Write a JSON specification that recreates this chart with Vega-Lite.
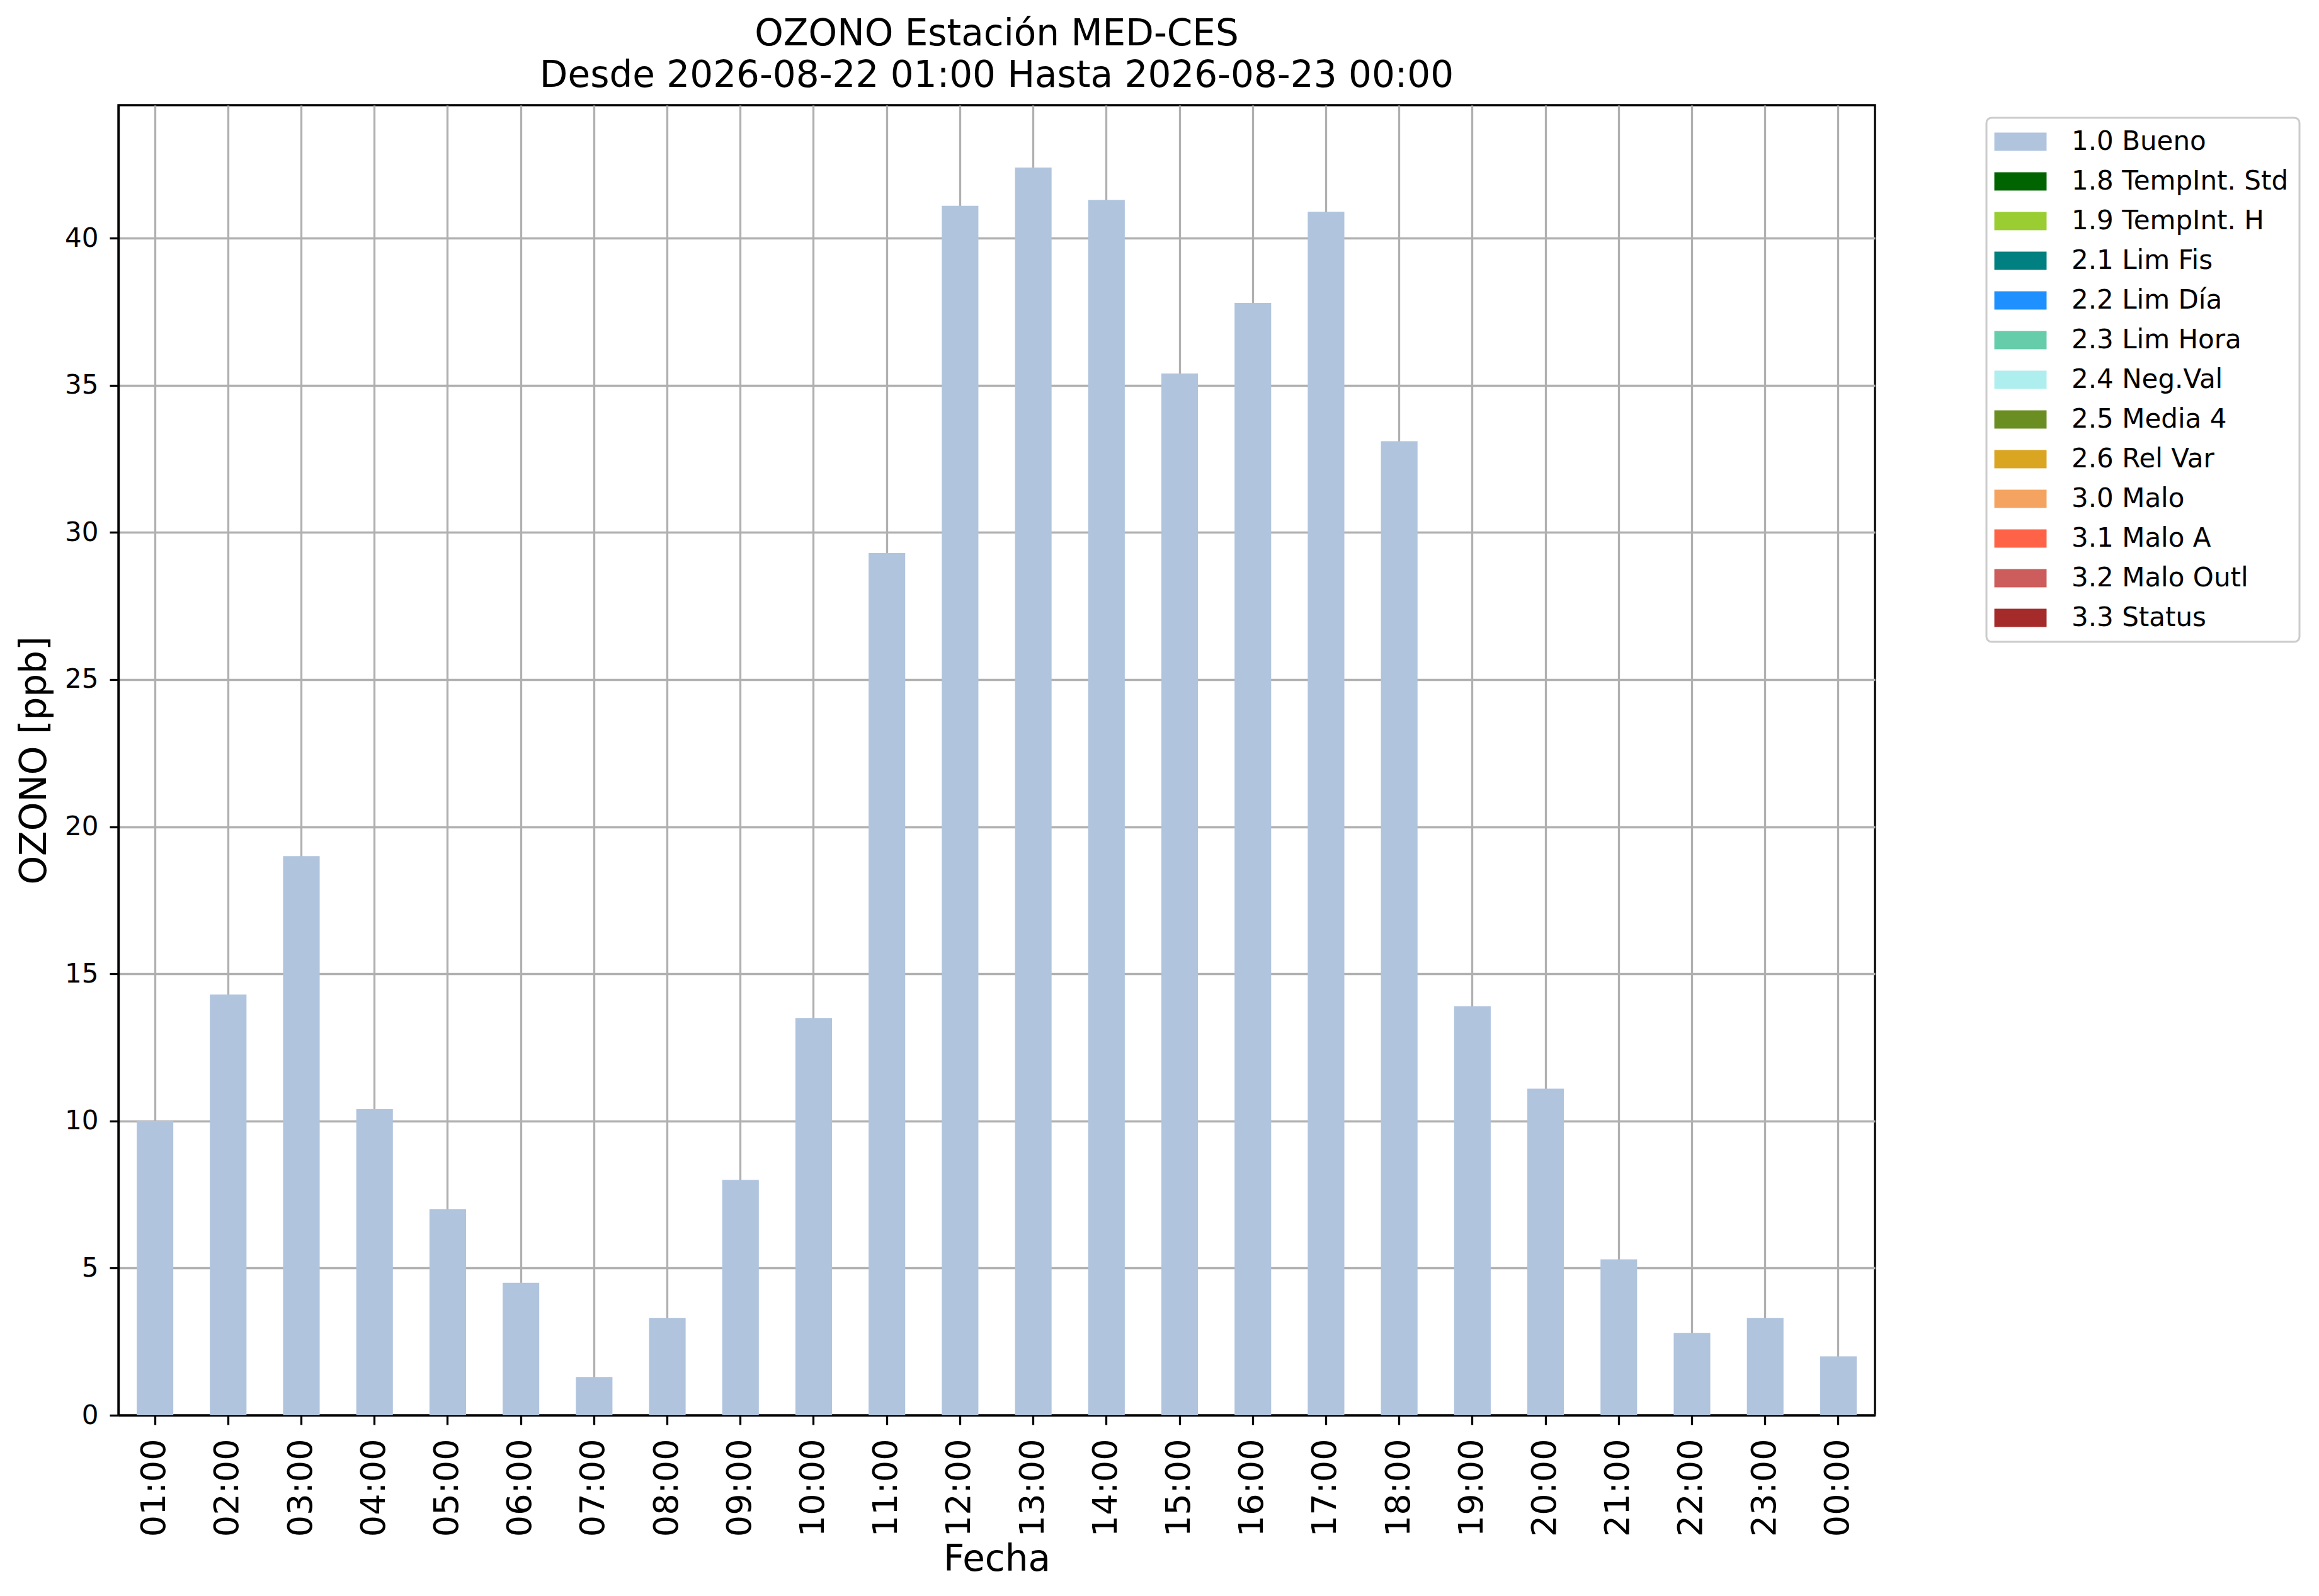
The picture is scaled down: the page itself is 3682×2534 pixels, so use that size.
{
  "$schema": "https://vega.github.io/schema/vega-lite/v6.json",
  "autosize": {"type": "none"},
  "padding": {"left": 188, "top": 167, "right": 705, "bottom": 287},
  "width": 2789,
  "height": 2080,
  "background": "white",
  "title": {
    "text": ["OZONO Estación MED-CES", "Desde 2026-08-22 01:00 Hasta 2026-08-23 00:00"],
    "anchor": "middle",
    "frame": "group",
    "font": "DejaVu Sans",
    "fontSize": 58,
    "fontWeight": "normal",
    "color": "black",
    "lineHeight": 66,
    "baseline": "bottom",
    "offset": 11,
    "dy": 52
  },
  "data": {
    "values": [
      {"hora": "01:00", "valor": 10.0, "estado": "1.0 Bueno"},
      {"hora": "02:00", "valor": 14.3, "estado": "1.0 Bueno"},
      {"hora": "03:00", "valor": 19.0, "estado": "1.0 Bueno"},
      {"hora": "04:00", "valor": 10.4, "estado": "1.0 Bueno"},
      {"hora": "05:00", "valor": 7.0, "estado": "1.0 Bueno"},
      {"hora": "06:00", "valor": 4.5, "estado": "1.0 Bueno"},
      {"hora": "07:00", "valor": 1.3, "estado": "1.0 Bueno"},
      {"hora": "08:00", "valor": 3.3, "estado": "1.0 Bueno"},
      {"hora": "09:00", "valor": 8.0, "estado": "1.0 Bueno"},
      {"hora": "10:00", "valor": 13.5, "estado": "1.0 Bueno"},
      {"hora": "11:00", "valor": 29.3, "estado": "1.0 Bueno"},
      {"hora": "12:00", "valor": 41.1, "estado": "1.0 Bueno"},
      {"hora": "13:00", "valor": 42.4, "estado": "1.0 Bueno"},
      {"hora": "14:00", "valor": 41.3, "estado": "1.0 Bueno"},
      {"hora": "15:00", "valor": 35.4, "estado": "1.0 Bueno"},
      {"hora": "16:00", "valor": 37.8, "estado": "1.0 Bueno"},
      {"hora": "17:00", "valor": 40.9, "estado": "1.0 Bueno"},
      {"hora": "18:00", "valor": 33.1, "estado": "1.0 Bueno"},
      {"hora": "19:00", "valor": 13.9, "estado": "1.0 Bueno"},
      {"hora": "20:00", "valor": 11.1, "estado": "1.0 Bueno"},
      {"hora": "21:00", "valor": 5.3, "estado": "1.0 Bueno"},
      {"hora": "22:00", "valor": 2.8, "estado": "1.0 Bueno"},
      {"hora": "23:00", "valor": 3.3, "estado": "1.0 Bueno"},
      {"hora": "00:00", "valor": 2.0, "estado": "1.0 Bueno"}
    ]
  },
  "mark": {"type": "bar"},
  "encoding": {
    "x": {
      "field": "hora",
      "type": "ordinal",
      "sort": null,
      "scale": {"paddingInner": 0.5, "paddingOuter": 0.25},
      "axis": {
        "title": "Fecha",
        "labelAngle": -90,
        "labelAlign": "right",
        "labelBaseline": "middle",
        "labelFontSize": 54,
        "labelPadding": 22,
        "tickSize": 15,
        "titlePadding": 8,
        "bandPosition": 0.5,
        "grid": true
      }
    },
    "y": {
      "field": "valor",
      "type": "quantitative",
      "scale": {"domain": [0, 44.52], "nice": false, "zero": true},
      "axis": {
        "title": "OZONO [ppb]",
        "values": [0, 5, 10, 15, 20, 25, 30, 35, 40],
        "labelFontSize": 42,
        "labelPadding": 18,
        "tickSize": 14,
        "titlePadding": 18,
        "grid": true
      }
    },
    "color": {
      "field": "estado",
      "type": "nominal",
      "scale": {
        "domain": ["1.0 Bueno", "1.8 TempInt. Std", "1.9 TempInt. H", "2.1 Lim Fis", "2.2 Lim Día", "2.3 Lim Hora", "2.4 Neg.Val", "2.5 Media 4", "2.6 Rel Var", "3.0 Malo", "3.1 Malo A", "3.2 Malo Outl", "3.3 Status"],
        "range": ["#b0c4de", "#006400", "#9acd32", "#008080", "#1e90ff", "#66cdaa", "#afeeee", "#6b8e23", "#daa520", "#f4a460", "#ff6347", "#cd5c5c", "#a52a2a"]
      },
      "legend": {
        "title": null,
        "orient": "none",
        "legendX": 2966,
        "legendY": 20,
        "symbolType": "M-2.86,-1H2.86V1H-2.86Z",
        "symbolSize": 841,
        "symbolOffset": 16,
        "symbolStrokeWidth": 0,
        "symbolOpacity": 1,
        "labelFontSize": 42,
        "labelOffset": 60,
        "rowPadding": 21,
        "padding": 17,
        "strokeColor": "#cccccc",
        "cornerRadius": 8,
        "fillColor": "white",
        "labelLimit": 800
      }
    }
  },
  "config": {
    "font": "DejaVu Sans",
    "view": {"stroke": "black", "strokeWidth": 3.3},
    "axis": {
      "labelFont": "DejaVu Sans",
      "titleFont": "DejaVu Sans",
      "labelColor": "black",
      "titleColor": "black",
      "titleFontSize": 58,
      "titleFontWeight": "normal",
      "domainColor": "black",
      "domainWidth": 3.3,
      "tickColor": "black",
      "tickWidth": 3.3,
      "gridColor": "#b0b0b0",
      "gridWidth": 3.3,
      "gridOpacity": 1,
      "zindex": 1
    },
    "legend": {
      "labelFont": "DejaVu Sans",
      "labelColor": "black",
      "strokeWidth": 3
    }
  }
}
